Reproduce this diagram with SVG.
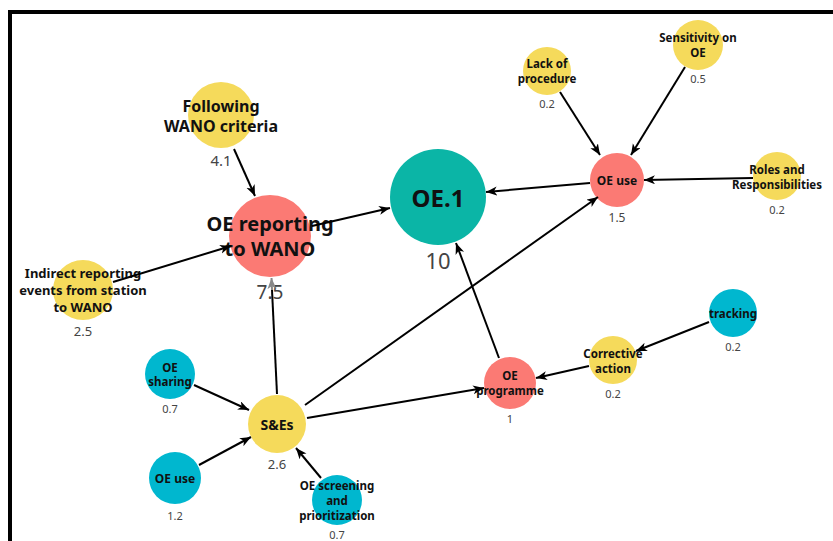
<svg xmlns="http://www.w3.org/2000/svg" width="833" height="541" viewBox="0 0 833 541">
<style>
.lbl{font-family:"Noto Sans","Open Sans","Liberation Sans",sans-serif;font-weight:bold;fill:#111;text-anchor:middle;dominant-baseline:central}
.val{font-family:"Noto Sans","Open Sans","Liberation Sans",sans-serif;fill:#444;text-anchor:middle;dominant-baseline:central}
.e{stroke:#000;stroke-width:2;fill:none;marker-end:url(#ah)}
.y{fill:#F5DA5B}.r{fill:#FB7A74}.t{fill:#0BB5A6}.c{fill:#00B7CF}
</style>
<defs>
<marker id="ah" markerUnits="userSpaceOnUse" markerWidth="12" markerHeight="10" refX="11" refY="4.5" orient="auto">
<path d="M0,0 L11,4.5 L0,9 L3,4.5 z" fill="#000"/>
</marker>
<marker id="ahg" markerUnits="userSpaceOnUse" markerWidth="12" markerHeight="10" refX="11" refY="4.5" orient="auto">
<path d="M0,0 L11,4.5 L0,9 L3,4.5 z" fill="#888"/>
</marker>
</defs>
<rect width="833" height="541" fill="#fff"/>
<path d="M10,541 V12 H833" stroke="#000" stroke-width="4" fill="none"/>

<g id="n-following"><circle class="y" cx="221" cy="115" r="33"/><text class="lbl" x="221" y="106" font-size="16">Following</text><text class="lbl" x="221" y="126" font-size="16">WANO criteria</text><text class="val" x="221" y="160" font-size="15">4.1</text></g>
<g id="n-reporting"><circle class="r" cx="270" cy="236" r="41"/></g>
<g id="n-oe1"><circle class="t" cx="438" cy="197" r="48"/><text class="lbl" x="438" y="197" font-size="24">OE.1</text><text class="val" x="438" y="260" font-size="22">10</text></g>
<g id="n-oeuse"><circle class="r" cx="617" cy="180" r="27"/><text class="lbl" x="617" y="180" font-size="12">OE use</text><text class="val" x="617" y="217" font-size="12">1.5</text></g>
<g id="n-lack"><circle class="y" cx="547" cy="71" r="24"/><text class="lbl" x="547" y="63" font-size="11.5">Lack of</text><text class="lbl" x="547" y="78" font-size="11.5">procedure</text><text class="val" x="547" y="103" font-size="11">0.2</text></g>
<g id="n-sens"><circle class="y" cx="698" cy="45" r="25"/><text class="lbl" x="698" y="37" font-size="11.5">Sensitivity on</text><text class="lbl" x="698" y="52" font-size="11.5">OE</text><text class="val" x="698" y="78" font-size="11">0.5</text></g>
<g id="n-roles"><circle class="y" cx="777" cy="176" r="24"/><text class="lbl" x="777" y="169" font-size="11.5">Roles and</text><text class="lbl" x="777" y="184" font-size="11.5">Responsibilities</text><text class="val" x="777" y="209" font-size="11">0.2</text></g>
<g id="n-indirect"><circle class="y" cx="83" cy="290" r="30"/></g>
<g id="n-sharing"><circle class="c" cx="170" cy="374" r="25"/><text class="lbl" x="170" y="367" font-size="11.5">OE</text><text class="lbl" x="170" y="381" font-size="11.5">sharing</text><text class="val" x="170" y="408" font-size="11">0.7</text></g>
<g id="n-ses"><circle class="y" cx="277" cy="424" r="29"/><text class="lbl" x="277" y="424" font-size="14">S&amp;Es</text><text class="val" x="277" y="464" font-size="13">2.6</text></g>
<g id="n-oeuse2"><circle class="c" cx="175" cy="478" r="26"/><text class="lbl" x="175" y="478" font-size="12">OE use</text><text class="val" x="175" y="515" font-size="11">1.2</text></g>
<g id="n-screen"><circle class="c" cx="337" cy="500" r="25"/><text class="lbl" x="337" y="485" font-size="11.5">OE screening</text><text class="lbl" x="337" y="500" font-size="11.5">and</text><text class="lbl" x="337" y="515" font-size="11.5">prioritization</text><text class="val" x="337" y="534" font-size="11">0.7</text></g>
<g id="n-prog"><circle class="r" cx="510" cy="383" r="26"/><text class="lbl" x="510" y="375" font-size="11.5">OE</text><text class="lbl" x="510" y="390" font-size="11.5">programme</text><text class="val" x="510" y="418" font-size="11">1</text></g>
<g id="n-corr"><circle class="y" cx="613" cy="360" r="24"/><text class="lbl" x="613" y="353" font-size="11.5">Corrective</text><text class="lbl" x="613" y="368" font-size="11.5">action</text><text class="val" x="613" y="393" font-size="11">0.2</text></g>
<g id="n-track"><circle class="c" cx="733" cy="313" r="24"/><text class="lbl" x="733" y="313" font-size="11.5">tracking</text><text class="val" x="733" y="346" font-size="11">0.2</text></g>

<g id="n-reporting-text"><text class="lbl" x="270" y="223" font-size="20">OE reporting</text><text class="lbl" x="270" y="248" font-size="20">to WANO</text><text class="val" x="270" y="292" font-size="19">7.5</text></g>
<g id="n-indirect-text"><text class="lbl" x="83" y="273" font-size="13">Indirect reporting</text><text class="lbl" x="83" y="290" font-size="13">events from station</text><text class="lbl" x="83" y="307" font-size="13">to WANO</text><text class="val" x="83" y="331" font-size="13">2.5</text></g>

<g id="edges">
<line class="e" x1="234" y1="149" x2="255" y2="196"/>
<line class="e" x1="113" y1="282" x2="231" y2="246"/>
<line class="e" x1="312" y1="226" x2="390" y2="208"/>
<line class="e" x1="590" y1="183" x2="486" y2="192"/>
<line class="e" x1="560" y1="92" x2="600" y2="155"/>
<line class="e" x1="685" y1="67" x2="631" y2="155"/>
<line class="e" x1="753" y1="178" x2="644" y2="180"/>
<line stroke="#000" stroke-width="2" x1="277" y1="394" x2="272" y2="290"/>
<line stroke="#888" stroke-width="2" x1="272" y1="290" x2="271.5" y2="278" marker-end="url(#ahg)"/>
<line class="e" x1="305" y1="405" x2="598" y2="197"/>
<line class="e" x1="307" y1="418" x2="484" y2="388"/>
<line class="e" x1="499" y1="358" x2="456" y2="243"/>
<line class="e" x1="589" y1="366" x2="536" y2="378"/>
<line class="e" x1="709" y1="322" x2="636" y2="351"/>
<line class="e" x1="194" y1="385" x2="249" y2="410"/>
<line class="e" x1="199" y1="465" x2="251" y2="437"/>
<line class="e" x1="321" y1="478" x2="296" y2="448"/>
</g>
</svg>
